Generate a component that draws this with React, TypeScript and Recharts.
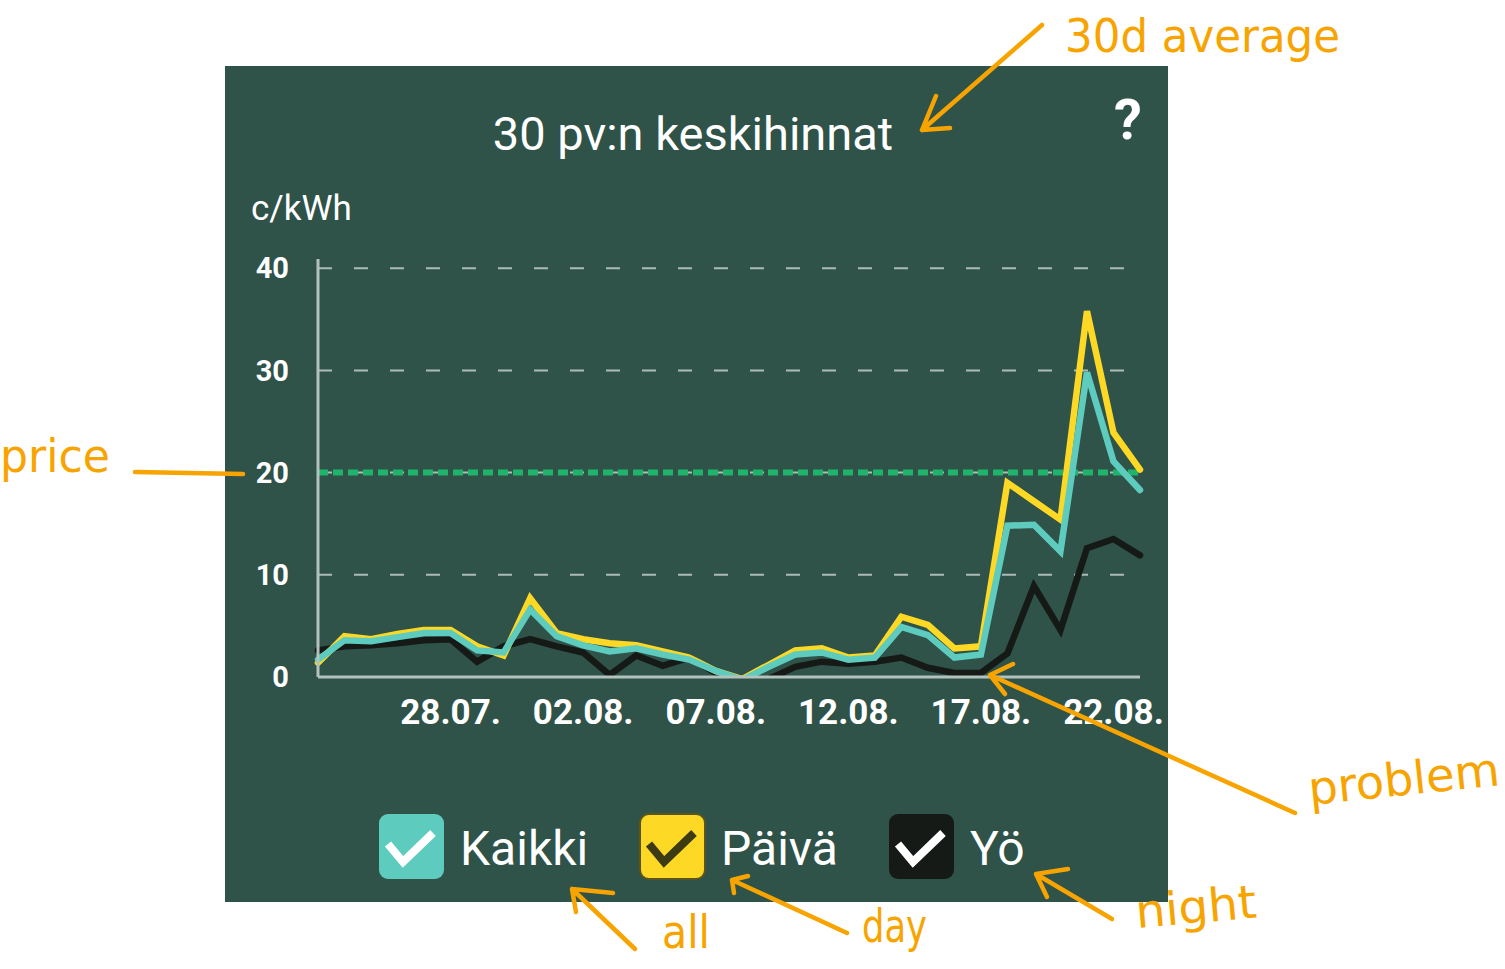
import { LineChart, Line, XAxis, YAxis, CartesianGrid, ReferenceLine } from 'recharts'

// 30 days of average prices, c/kWh
const dates = [
	'23.07.', '24.07.', '25.07.', '26.07.', '27.07.', '28.07.', '29.07.', '30.07.',
	'31.07.', '01.08.', '02.08.', '03.08.', '04.08.', '05.08.', '06.08.', '07.08.',
	'08.08.', '09.08.', '10.08.', '11.08.', '12.08.', '13.08.', '14.08.', '15.08.',
	'16.08.', '17.08.', '18.08.', '19.08.', '20.08.', '21.08.', '22.08.', '23.08.',
]
const kaikki = [
	1.7, 3.6, 3.5, 3.9, 4.3, 4.3, 2.6, 2.4, 6.6, 4.0, 3.1, 2.5, 2.8, 2.2, 1.7, 0.6,
	-0.3, 1.0, 2.2, 2.4, 1.7, 1.9, 4.9, 4.1, 1.9, 2.2, 14.8, 14.9, 12.3, 29.8, 21.1, 18.3,
]
const paiva = [
	1.4, 4.0, 3.7, 4.2, 4.6, 4.6, 3.0, 2.1, 7.7, 4.3, 3.7, 3.3, 3.1, 2.5, 1.9, 0.6,
	-0.2, 1.2, 2.6, 2.8, 1.9, 2.1, 5.9, 5.1, 2.8, 3.0, 19.0, 17.2, 15.4, 35.8, 23.9, 20.3,
]
const yo = [
	2.6, 3.0, 3.1, 3.3, 3.6, 3.7, 1.5, 3.0, 3.7, 3.0, 2.4, 0.2, 2.1, 1.1, 1.9, 0.4,
	-0.3, -0.2, 1.0, 1.5, 1.3, 1.5, 1.9, 0.9, 0.4, 0.4, 2.3, 8.9, 4.6, 12.6, 13.5, 11.9,
]
const xTicks = ['28.07.', '02.08.', '07.08.', '12.08.', '17.08.', '22.08.']
const yTicks = [0, 10, 20, 30, 40]
const averageLimit = 20

const series = [
	{ key: 'kaikki', label: 'Kaikki', color: '#5ecbbf', check: '#ffffff', border: 'none' },
	{ key: 'paiva', label: 'Päivä', color: '#fdd824', check: '#3d3b14', border: '#5a551d' },
	{ key: 'yo', label: 'Yö', color: '#161a17', check: '#ffffff', border: 'none' },
]

const chartData = dates.map((date, i) => ({
	date,
	kaikki: kaikki[i],
	paiva: paiva[i],
	yo: yo[i],
}))

const FONT = 'Roboto, sans-serif'
const BG = '#2f5249'
const ORANGE = '#f8a400'

// legend box x positions
const legendBoxX = [379, 640, 889]

function Legend() {
	return (
		<g>
			{series.map((s, i) => {
				const x = legendBoxX[i]
				const y = 814
				return (
					<g key={s.key}>
						<rect
							x={x}
							y={y}
							width={65}
							height={65}
							rx={9}
							fill={s.color}
							stroke={s.border}
							strokeWidth={2}
						/>
						<polyline
							points={`${x + 9},${y + 30} ${x + 24},${y + 48} ${x + 54},${y + 19}`}
							fill="none"
							stroke={s.check}
							strokeWidth={8}
						/>
						<text
							x={x + 81}
							y={865}
							fill="#ffffff"
							fontSize={48}
							fontFamily={FONT}
						>
							{s.label}
						</text>
					</g>
				)
			})}
		</g>
	)
}

function Notes() {
	const line = { fill: 'none', stroke: ORANGE, strokeWidth: 4.5, strokeLinecap: 'round' as const, strokeLinejoin: 'round' as const }
	const txt = { fill: ORANGE, fontFamily: '"DejaVu Sans", sans-serif', fontSize: 46, lengthAdjust: 'spacingAndGlyphs' as const }
	return (
		<g>
			<path d="M1042,25 L922,130 M936,96 L922,130 L950,128" {...line} />
			<text x={1065} y={52} textLength={275} {...txt}>30d average</text>

			<path d="M135,472 L243,474" {...line} />
			<text x={0} y={472} textLength={110} {...txt}>price</text>

			<path d="M1295,813 L990,675 M1013,664 L990,675 L1005,694" {...line} />
			<text x={1310} y={805} textLength={192} transform="rotate(-6 1310 805)" {...txt}>problem</text>

			<path d="M635,949 L572,889 M613,893 L572,889 L576,912" {...line} />
			<text x={662} y={948} textLength={48} {...txt}>all</text>

			<path d="M847,933 L732,880 M748,876 L732,880 L734,893" {...line} />
			<text x={862} y={942} textLength={65} {...txt}>day</text>

			<path d="M1112,919 L1036,874 M1068,869 L1036,874 L1047,897" {...line} />
			<text x={1137} y={928} textLength={121} transform="rotate(-5 1137 928)" {...txt}>night</text>
		</g>
	)
}

export default function App() {
	return (
		<div style={{ position: 'absolute', left: 0, top: 0, width: 1505, height: 969, background: '#ffffff', overflow: 'hidden' }}>
			<div style={{ position: 'absolute', left: 225, top: 66, width: 943, height: 836, background: BG }} />

			<div style={{ position: 'absolute', left: 225, top: 240 }}>
				<LineChart
					width={943}
					height={500}
					data={chartData}
					margin={{ top: 19, right: 28, left: 33, bottom: 3 }}
				>
					{/* syncWithTicks: no extra line on the plot edge */}
					<CartesianGrid
						vertical={false}
						syncWithTicks
						stroke="#adbbb6"
						strokeWidth={2}
						strokeDasharray="14 22"
					/>
					<XAxis
						dataKey="date"
						ticks={xTicks}
						interval={0}
						height={60}
						tickLine={false}
						tickSize={0}
						tickMargin={22}
						axisLine={{ stroke: '#b4c2bd', strokeWidth: 3 }}
						tick={{ fill: '#ffffff', fontSize: 35, fontWeight: 700, fontFamily: FONT }}
					/>
					<YAxis
						width={60}
						domain={[0, 40.9]}
						ticks={yTicks}
						allowDataOverflow
						tickLine={false}
						tickSize={0}
						tickMargin={29}
						axisLine={{ stroke: '#b4c2bd', strokeWidth: 3 }}
						tick={{ fill: '#ffffff', fontSize: 29, fontWeight: 700, fontFamily: FONT }}
					/>
					<ReferenceLine
						y={averageLimit}
						stroke="#1fb36c"
						strokeWidth={6}
						strokeDasharray="10 5"
					/>
					<Line type="linear" dataKey="yo" stroke="#161a17" strokeWidth={6.5} strokeLinecap="round" dot={false} activeDot={false} isAnimationActive={false} />
					<Line type="linear" dataKey="paiva" stroke="#fdd824" strokeWidth={6.5} strokeLinecap="round" dot={false} activeDot={false} isAnimationActive={false} />
					<Line type="linear" dataKey="kaikki" stroke="#5ecbbf" strokeWidth={6.5} strokeLinecap="round" dot={false} activeDot={false} isAnimationActive={false} />
				</LineChart>
			</div>

			<svg width={1505} height={969} style={{ position: 'absolute', left: 0, top: 0, pointerEvents: 'none' }}>
				<text x={693} y={150} textAnchor="middle" fill="#ffffff" fontSize={47} fontFamily={FONT}>
					30 pv:n keskihinnat
				</text>
				<text x={1128} y={139} textAnchor="middle" fill="#ffffff" fontSize={56} fontWeight={700} fontFamily={FONT}>
					?
				</text>
				<text x={251} y={220} fill="#ffffff" fontSize={35} fontFamily={FONT}>
					c/kWh
				</text>
				<Legend />
				<Notes />
			</svg>
		</div>
	)
}
